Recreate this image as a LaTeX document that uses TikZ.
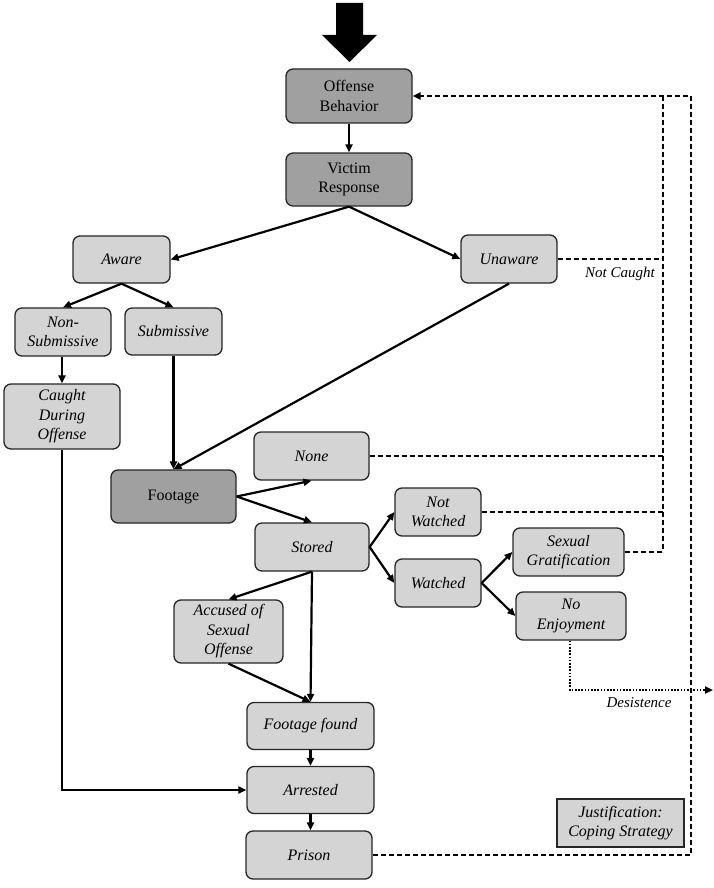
\documentclass[tikz,border=0pt]{standalone}
\usepackage{fontspec}
\setmainfont{Liberation Serif}
\usetikzlibrary{arrows.meta}
\definecolor{darkg}{RGB}{160,160,160}
\definecolor{lightg}{RGB}{212,212,212}
\tikzset{
  box/.style={draw=black!85, line width=1.3pt, rounded corners=7pt, fill=lightg, align=center,
    inner sep=0pt, font=\fontsize{16}{19.5}\selectfont\itshape},
  darkbox/.style={box, fill=darkg, font=\fontsize{16}{19.5}\selectfont\upshape},
  conn/.style={line width=2.2pt, -{Triangle[length=8pt,width=7pt]}},
  dashln/.style={line width=2pt, dash pattern=on 5pt off 3pt},
  dotln/.style={line width=2pt, dash pattern=on 1.6pt off 1.6pt},
  lbl/.style={font=\fontsize{15}{18}\selectfont\itshape, inner sep=0pt}
}
\begin{document}
\begin{tikzpicture}[x=1pt,y=-1pt]
\useasboundingbox (0,0) rectangle (714,888);
% big entry arrow
\fill (336,3) -- (363,3) -- (363,35) -- (377,35) -- (349.5,62) -- (322,35) -- (336,35) -- cycle;
% nodes
\node[darkbox, minimum width=126pt, minimum height=54pt] (ob) at (349,96) {Offense\\Behavior};
\node[darkbox, minimum width=126pt, minimum height=53pt] (vr) at (349,179.5) {Victim\\Response};
\node[box, minimum width=97pt, minimum height=47pt] (aware) at (121.5,259.5) {Aware};
\node[box, minimum width=96pt, minimum height=48pt] (unaware) at (509,259) {Unaware};
\node[box, minimum width=96pt, minimum height=48pt] (nonsub) at (63,332) {Non-\\Submissive};
\node[box, minimum width=97pt, minimum height=47pt] (sub) at (173.5,331.5) {Submissive};
\node[box, minimum width=116pt, minimum height=65pt] (caught) at (62,416.5) {Caught\\During\\Offense};
\node[darkbox, minimum width=125pt, minimum height=53pt] (footage) at (173.5,496.5) {Footage};
\node[box, minimum width=115pt, minimum height=48pt] (none) at (311.5,456) {None};
\node[box, minimum width=114pt, minimum height=48pt] (stored) at (312,547) {Stored};
\node[box, minimum width=86pt, minimum height=48pt] (notw) at (438,512) {Not\\Watched};
\node[box, minimum width=86pt, minimum height=48pt] (watched) at (438,583) {Watched};
\node[box, minimum width=111pt, minimum height=48pt] (sexg) at (568.5,552) {Sexual\\Gratification};
\node[box, minimum width=110pt, minimum height=48pt] (noenj) at (571,616) {No\\Enjoyment};
\node[box, minimum width=109pt, minimum height=63pt] (accused) at (228.5,631.5) {Accused of\\Sexual\\Offense};
\node[box, minimum width=127pt, minimum height=47pt] (ffound) at (310.5,726) {Footage found};
\node[box, minimum width=127pt, minimum height=47pt] (arrested) at (310.5,790) {Arrested};
\node[box, minimum width=126pt, minimum height=48pt] (prison) at (309,855) {Prison};
\node[box, rounded corners=0pt, minimum width=127pt, minimum height=48pt] (justif) at (620.5,823) {Justification:\\Coping Strategy};
% labels
\node[lbl] (notcaught) at (620,274) {Not Caught};
\node[lbl] (desist) at (639,703) {Desistence};
% solid connectors
\draw[conn] (ob.south) -- (vr.north);
\draw[conn] (vr.south) -- (aware.east);
\draw[conn] (vr.south) -- (unaware.west);
\draw[conn] (aware.south) -- (nonsub.north);
\draw[conn] (aware.south) -- (sub.north);
\draw[conn] (nonsub.south -| caught.north) -- (caught.north);
\draw[conn] (sub.south) -- (footage.north);
\draw[conn] (unaware.south) -- (footage.north);
\draw[conn] (footage.east) -- (none.south);
\draw[conn] (footage.east) -- (stored.north);
\draw[conn] (stored.east) -- (notw.west);
\draw[conn] (stored.east) -- (watched.west);
\draw[conn] (watched.east) -- (sexg.west);
\draw[conn] (watched.east) -- (noenj.west);
\draw[conn] (stored.south) -- (accused.north);
\draw[conn] (stored.south) -- (ffound.north);
\draw[conn] (accused.south) -- (ffound.north);
\draw[conn] (ffound.south) -- (arrested.north);
\draw[conn] (arrested.south) -- (arrested.south |- prison.north);
\coordinate (cbend) at (62,790);
\draw[conn] (caught.south) -- (cbend) -- (arrested.west);
% dashed feedback lines
\coordinate (outtop) at (691,96);
\coordinate (intop) at (663,96);
\coordinate (inbot) at (663,552);
\coordinate (outbot) at (691,855);
\draw[dashln, -{Triangle[length=8pt,width=7pt]}] (prison.east) -- (outbot) -- (outtop) -- (ob.east);
\draw[dashln] (intop) -- (inbot);
\draw[dashln] (unaware.east) -- (unaware.east -| intop);
\draw[dashln] (none.east) -- (none.east -| intop);
\draw[dashln] (notw.east) -- (notw.east -| intop);
\draw[dashln] (sexg.east) -- (inbot);
% dotted desistence
\coordinate (dbend) at (570,690);
\coordinate (dend) at (713,690);
\draw[dotln, -{Triangle[length=8pt,width=7pt]}] (noenj.south -| dbend) -- (dbend) -- (dend);
\end{tikzpicture}
\end{document}
